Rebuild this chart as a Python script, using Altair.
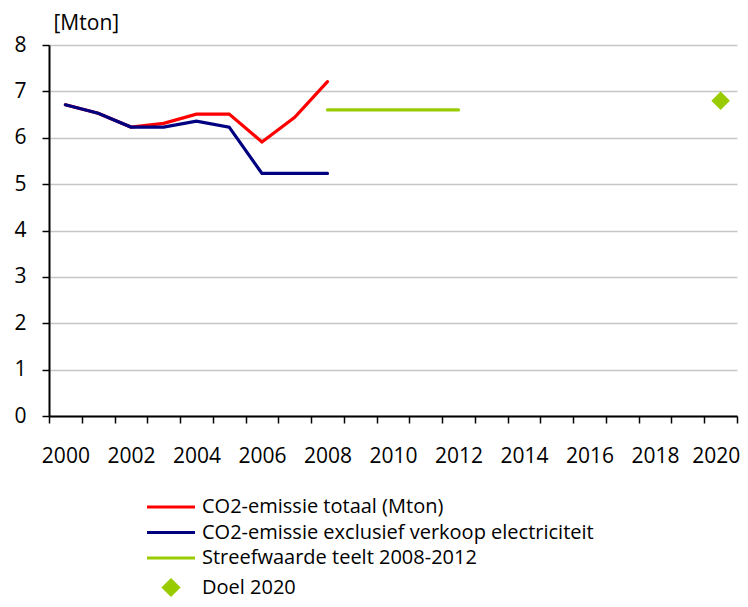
import altair as alt
import pandas as pd

# ---- data ----
years_hist = [2000, 2001, 2002, 2003, 2004, 2005, 2006, 2007, 2008]
co2_total = [6.71, 6.53, 6.23, 6.31, 6.51, 6.51, 5.91, 6.44, 7.21]
co2_excl = [6.71, 6.53, 6.23, 6.23, 6.36, 6.23, 5.23, 5.23, 5.23]
target_years = [2008, 2012]
target_values = [6.6, 6.6]
goal_years = [2020]
goal_values = [6.8]

all_years = list(range(2000, 2021))
y_ticks = [0, 1, 2, 3, 4, 5, 6, 7, 8]

series_names = [
    "CO2-emissie totaal  (Mton)",
    "CO2-emissie exclusief verkoop electriciteit",
    "Streefwaarde teelt 2008-2012",
    "Doel 2020",
]
series_colors = ["#FF0000", "#000080", "#99CC00", "#99CC00"]
line_path = "M-3.2,0H3.2"
diamond_path = "M0,-1L1,0L0,1L-1,0Z"
series_shapes = [line_path, line_path, line_path, diamond_path]

rows = []
for y, v in zip(years_hist, co2_total):
    rows.append({"year": y, "value": v, "series": series_names[0]})
for y, v in zip(years_hist, co2_excl):
    rows.append({"year": y, "value": v, "series": series_names[1]})
for y, v in zip(target_years, target_values):
    rows.append({"year": y, "value": v, "series": series_names[2]})
for y, v in zip(goal_years, goal_values):
    rows.append({"year": y, "value": v, "series": series_names[3]})
df = pd.DataFrame(rows)

FONT = "Open Sans"
FS = 21
LEGEND_FS = 20

tick_vals = [y - 0.5 for y in all_years] + [all_years[-1] + 0.5]
last_label_tick = all_years[-1] - 0.5

x_enc = alt.X(
    "year:Q",
    scale=alt.Scale(domain=[1999.5, 2020.5], nice=False, zero=False),
    axis=alt.Axis(
        values=tick_vals,
        labelExpr="((datum.value + 0.5) % 2 == 0) ? format(datum.value + 0.5, 'd') : ''",
        labelOffset={
            "condition": {"test": f"datum.value == {last_label_tick}", "value": 11.5},
            "value": 16.38,
        },
        labelFlush=False,
        labelOverlap=False,
        grid=False,
        tickSize=7,
        tickWidth=1.5,
        tickColor="#000000",
        domainColor="#000000",
        domainWidth=2,
        labelPadding=22,
        labelFontSize=FS,
        labelColor="#000000",
        title=None,
    ),
)

y_enc = alt.Y(
    "value:Q",
    scale=alt.Scale(domain=[0, 8], nice=False),
    axis=alt.Axis(
        values=y_ticks,
        format="d",
        grid=True,
        gridColor="#c6c6c6",
        gridWidth=1.5,
        tickSize=7,
        tickWidth=1.5,
        tickColor="#000000",
        domainColor="#000000",
        domainWidth=2,
        labelPadding=16,
        labelFontSize=FS,
        labelColor="#000000",
        title="[Mton]",
        titleAngle=0,
        titleX=4,
        titleY=-16,
        titleAlign="left",
        titleBaseline="alphabetic",
        titleFontWeight="normal",
        titleFontSize=FS,
        titleColor="#000000",
    ),
)

stroke_scale = alt.Scale(domain=series_names, range=series_colors)
fill_scale = alt.Scale(domain=series_names, range=series_colors)
shape_scale = alt.Scale(domain=series_names, range=series_shapes)

legend = alt.Legend(
    title=None,
    orient="none",
    legendX=112,
    legendY=452,
    direction="vertical",
    padding=0,
    symbolSize=225,
    symbolStrokeWidth=3,
    labelOffset=21,
    labelFontSize=LEGEND_FS,
    labelColor="#000000",
    labelLimit=600,
    rowPadding=5.5,
)

base = alt.Chart(df)

lines = base.transform_filter(
    alt.datum.series != series_names[3]
).mark_line(strokeWidth=3.2, strokeCap="round").encode(
    x=x_enc,
    y=y_enc,
    stroke=alt.Stroke("series:N", scale=stroke_scale, legend=legend),
    detail="series:N",
)

points = base.transform_filter(
    alt.datum.series == series_names[3]
).mark_point(filled=True, size=225, strokeWidth=2.5, opacity=1).encode(
    x=x_enc,
    y=y_enc,
    stroke=alt.Stroke("series:N", scale=stroke_scale, legend=legend),
    fill=alt.Fill("series:N", scale=fill_scale, legend=legend),
    shape=alt.Shape("series:N", scale=shape_scale, legend=legend),
)

chart = alt.layer(lines, points).properties(
    width=688,
    height=371,
    autosize=alt.AutoSizeParams(type="none"),
    padding={"left": 41, "top": 37, "right": 3, "bottom": 182},
).configure(font=FONT).configure_view(strokeWidth=0)

chart.save("out.html", embed_options={"renderer": "svg", "actions": False})
